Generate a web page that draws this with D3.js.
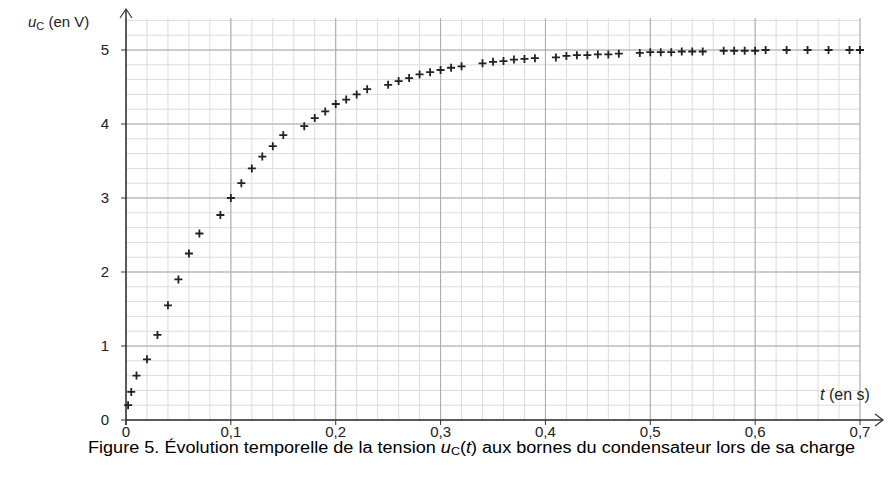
<!DOCTYPE html><html><head><meta charset="utf-8"><script src="https://cdn.jsdelivr.net/npm/d3@7"></script>
<style>body{margin:0;background:#fff}text{font-family:"Liberation Sans",Arial,sans-serif}</style></head><body>
<svg width="890" height="480"></svg>
<script>
const tValues=[0.002,0.005,0.01,0.02,0.03,0.04,0.05,0.06,0.07,0.09,0.1,0.11,0.12,0.13,0.14,0.15,0.17,0.18,0.19,0.2,0.21,0.22,0.23,0.25,0.26,0.27,0.28,0.29,0.3,0.31,0.32,0.34,0.35,0.36,0.37,0.38,0.39,0.41,0.42,0.43,0.44,0.45,0.46,0.47,0.49,0.5,0.51,0.52,0.53,0.54,0.55,0.57,0.58,0.59,0.6,0.61,0.63,0.65,0.67,0.69,0.7];
const uValues=[0.2,0.38,0.6,0.82,1.15,1.55,1.9,2.25,2.52,2.77,3.0,3.2,3.4,3.56,3.7,3.85,3.97,4.08,4.17,4.27,4.33,4.4,4.47,4.53,4.58,4.62,4.67,4.7,4.73,4.76,4.78,4.82,4.84,4.85,4.87,4.88,4.89,4.9,4.92,4.93,4.93,4.94,4.94,4.95,4.96,4.97,4.97,4.97,4.98,4.98,4.98,4.99,4.99,4.99,4.99,5.0,5.0,5.0,5.0,5.0,5.0];
const xTicks=[0,0.1,0.2,0.3,0.4,0.5,0.6,0.7];
const xTickLabels=["0","0,1","0,2","0,3","0,4","0,5","0,6","0,7"];
const yTicks=[0,1,2,3,4,5];
const svg=d3.select("svg");
const x=d3.scaleLinear().domain([0,0.7]).range([126,860]);
const y=d3.scaleLinear().domain([0,5]).range([420,50]);
const yTop=18;
const g=svg.append("g");
d3.range(0,36).map(i=>i*0.02).forEach(v=>{g.append("line").attr("x1",x(v)).attr("x2",x(v)).attr("y1",yTop).attr("y2",420).attr("stroke","#dcdcdc").attr("stroke-width",1);});
d3.range(0,28).map(i=>i*0.2).forEach(v=>{if(y(v)>=yTop)g.append("line").attr("x1",126).attr("x2",860).attr("y1",y(v)).attr("y2",y(v)).attr("stroke","#dcdcdc").attr("stroke-width",1);});
xTicks.forEach(v=>g.append("line").attr("x1",x(v)).attr("x2",x(v)).attr("y1",yTop).attr("y2",420).attr("stroke","#aaa"));
yTicks.forEach(v=>g.append("line").attr("x1",126).attr("x2",860).attr("y1",y(v)).attr("y2",y(v)).attr("stroke","#aaa"));
svg.append("line").attr("x1",126).attr("x2",882).attr("y1",420).attr("y2",420).attr("stroke","#333").attr("stroke-width",1.5);
svg.append("line").attr("x1",126).attr("x2",126).attr("y1",425).attr("y2",10).attr("stroke","#333").attr("stroke-width",1.5);
svg.append("path").attr("d","M875,414 L883,420 L875,426").attr("fill","none").attr("stroke","#333").attr("stroke-width",1.2);
svg.append("path").attr("d","M120,18 L126,9 L132,18").attr("fill","none").attr("stroke","#333").attr("stroke-width",1.2);
xTicks.forEach((v,i)=>{svg.append("line").attr("x1",x(v)).attr("x2",x(v)).attr("y1",420).attr("y2",425).attr("stroke","#333");
svg.append("text").attr("x",x(v)).attr("y",437).attr("text-anchor","middle").attr("font-size",15).attr("fill","#222").text(xTickLabels[i]);});
yTicks.forEach(v=>{svg.append("line").attr("x1",121).attr("x2",126).attr("y1",y(v)).attr("y2",y(v)).attr("stroke","#333");
svg.append("text").attr("x",109).attr("y",y(v)+5).attr("text-anchor","end").attr("font-size",15).attr("fill","#222").text(v);});
const yl=svg.append("text").attr("x",28).attr("y",27).attr("font-size",15).attr("fill","#222");
yl.append("tspan").attr("font-style","italic").text("u");yl.append("tspan").attr("font-size",11).attr("dy",3).text("C");yl.append("tspan").attr("dy",-3).text(" (en V)");
const xl=svg.append("text").attr("x",820).attr("y",400).attr("font-size",16).attr("fill","#222");
xl.append("tspan").attr("font-style","italic").text("t");xl.append("tspan").text(" (en s)");
const pts=tValues.map((t,i)=>[t,uValues[i]]);
svg.append("g").selectAll("path").data(pts).join("path")
 .attr("d",d=>`M${x(d[0])-4},${y(d[1])}h8M${x(d[0])},${y(d[1])-4}v8`).attr("stroke","#222").attr("stroke-width",1.8);
const c=svg.append("text").attr("x",88).attr("y",453).attr("font-size",16).attr("fill","#000")
 .attr("textLength",767).attr("lengthAdjust","spacingAndGlyphs");
c.append("tspan").text("Figure 5. Évolution temporelle de la tension ");c.append("tspan").attr("font-style","italic").text("u");
c.append("tspan").attr("font-size",11).attr("dy",2).text("C");c.append("tspan").attr("dy",-2).text("(");
c.append("tspan").attr("font-style","italic").text("t");c.append("tspan").text(") aux bornes du condensateur lors de sa charge");
</script></body></html>
